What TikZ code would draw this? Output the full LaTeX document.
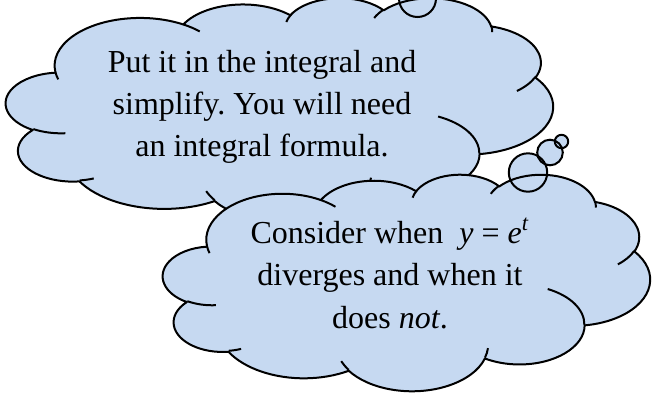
\documentclass[tikz,border=0pt]{standalone}
\usepackage{fontspec}
\setmainfont{Liberation Serif}
\frenchspacing
\definecolor{cloudblue}{HTML}{C6D9F1}
% OOXML "visual" angle -> parametric ellipse angle
\pgfmathdeclarefunction{vp}{3}{%
  \begingroup
  \pgfmathparse{atan2((#2)*sin(#1),(#3)*cos(#1))-(#1)}%
  \pgfmathparse{(#1)+\pgfmathresult-360*round(\pgfmathresult/360)}%
  \pgfmathsmuggle\pgfmathresult
  \endgroup}
\newcommand\oa[4]{arc[x radius=#1, y radius=#2, start angle={vp(#3,#1,#2)}, delta angle={vp((#3)+(#4),#1,#2)-vp(#3,#1,#2)}]}
\newcommand\cloudoutline{(39,143.7)
  \oa{67.53}{91.90}{-190.48748}{123.78053}
  \oa{53.33}{72.67}{-144.10238}{89.94523}
  \oa{43.65}{59.45}{-145.80792}{99.72302}
  \oa{48.57}{65.95}{-130.98607}{117.24173}
  \oa{53.33}{72.73}{-78.70888}{109.02692}
  \oa{67.75}{92.20}{-46.26725}{130.269}
  \oa{57.85}{78.67}{0.62502}{114.03333}
  \oa{67.52}{92.15}{22.4516}{115.17255}
  \oa{77.20}{105.43}{66.24263}{75.71102}
  \oa{43.60}{59.18}{-274.94208}{146.73557}
  \oa{43.45}{59.45}{-246.8285}{152.51885}
  -- cycle}
\newcommand\cloudinner{
  (46.93,261.77) \oa{43.45}{59.45}{86.742}{26.4295}
  (69.28,348.99) \oa{43.60}{59.18}{73.61047}{11.44747}
  (164.78,390.90) \oa{67.52}{92.15}{137.62415}{14.0811}
  (288.27,347.51) \oa{67.52}{92.15}{6.45327}{15.99835}
  (341.29,229.54) \oa{57.85}{78.67}{-70.29235}{70.91737}
  (417.98,153.54) \oa{53.33}{72.73}{30.31803}{27.7515}
  (383.24,54.26) \oa{48.57}{65.95}{-13.74433}{14.8589}
  (290.78,39.52) \oa{48.57}{65.95}{-149.18145}{18.19537}
  (221.41,47.20) \oa{43.65}{59.45}{-163.49427}{17.68635}
  (140.00,51.92) \oa{67.53}{91.90}{-66.70695}{12.31935}
  (41.27,157.89) \oa{67.53}{91.90}{157.65435}{11.85817}}
\pgfmathsetmacro\topx{547/432*0.5}
\pgfmathsetmacro\topy{224/432*0.5}
\pgfmathsetmacro\botx{487/432*0.5}
\pgfmathsetmacro\boty{216.5/432*0.5}
\tikzset{
  outline/.style={draw=black, line width=1pt},
  txt/.style={font=\fontsize{16}{21}\selectfont, inner sep=0pt, anchor=base, text=black}
}
\begin{document}
\begin{tikzpicture}[x=0.5pt, y=-0.5pt]
\useasboundingbox (0,0) rectangle (654,392);
\clip (0,0) rectangle (654,392);
% ---- top cloud ----
\begin{scope}[shift={(6,-2.5)}, x=\topx pt, y=-\topy pt]
  \fill[cloudblue] \cloudoutline;
\end{scope}
\fill[cloudblue] (417.5,-1.5) circle[radius=18.5];
\begin{scope}[shift={(6,-2.5)}, x=\topx pt, y=-\topy pt]
  \draw[outline, line join=round] \cloudoutline;
  \draw[outline] \cloudinner;
\end{scope}
\draw[outline] (417.5,-1.5) circle[radius=18.5];
% ---- bottom cloud ----
\begin{scope}[shift={(163,174)}, x=\botx pt, y=-\boty pt]
  \fill[cloudblue] \cloudoutline;
\end{scope}
\fill[cloudblue] (528,172.5) circle[radius=19.2];
\fill[cloudblue] (550,152.5) circle[radius=12.8];
\fill[cloudblue] (561.5,141.5) circle[radius=6.7];
\begin{scope}[shift={(163,174)}, x=\botx pt, y=-\boty pt]
  \draw[outline, line join=round] \cloudoutline;
  \draw[outline] \cloudinner;
\end{scope}
\draw[outline] (528,172.5) circle[radius=19.2];
\draw[outline] (550,152.5) circle[radius=12.8];
\draw[outline] (561.5,141.5) circle[radius=6.7];
% ---- texts ----
\node[txt] (a1) at (262,72) {Put it in the integral and};
\node[txt] (a2) at (262,114) {simplify. You will need};
\node[txt] (a3) at (262,156) {an integral formula.};
\node[txt] (b1) at (390,243) {Consider when\ \ \textit{y} = \textit{e}\textsuperscript{\textit{t}}};
\node[txt] (b2) at (390,285) {diverges and when it};
\node[txt] (b3) at (390,328) {does \textit{not}.};
\end{tikzpicture}
\end{document}
